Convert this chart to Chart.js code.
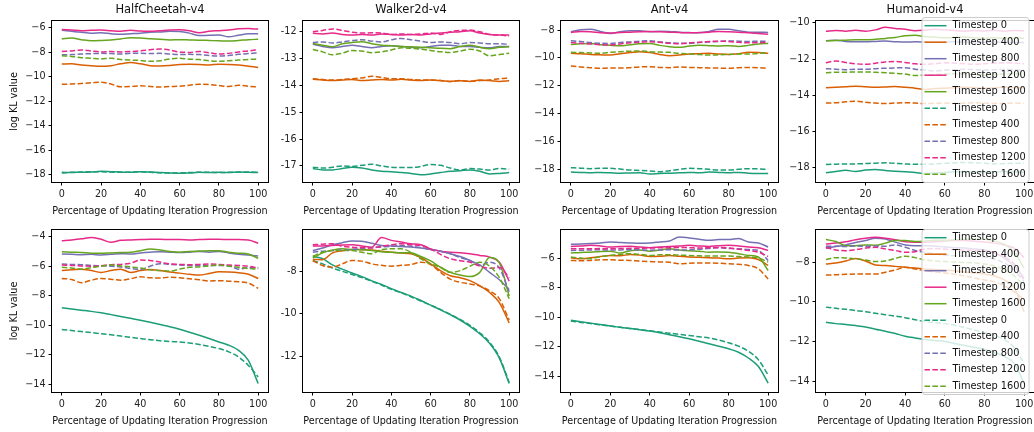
<!DOCTYPE html>
<html>
<head>
<meta charset="utf-8">
<script src="https://cdn.jsdelivr.net/npm/chart.js@4.4.1/dist/chart.umd.min.js"></script>
<style>
  html, body { margin: 0; padding: 0; background: #fff; overflow: hidden; }
  body { width: 1034px; height: 432px; position: relative; }
  .panel { position: absolute; }
</style>
</head>
<body>
<script>
// x positions (percentage of updating iteration progression)
const progress = [0, 5, 10, 15, 20, 25, 30, 35, 40, 45, 50, 55, 60, 65, 70, 75, 80, 85, 90, 95, 100];
const xTicks = [0, 20, 40, 60, 80, 100];

const timestepLabels = ['Timestep 0', 'Timestep 400', 'Timestep 800', 'Timestep 1200', 'Timestep 1600'];
const timestepColors = ['#1b9e77', '#d95f02', '#7570b3', '#e7298a', '#66a61e'];
const envTitles = ['HalfCheetah-v4', 'Walker2d-v4', 'Ant-v4', 'Humanoid-v4'];

// y tick labels per panel
const yTicksHalfCheetahTop = [-18, -16, -14, -12, -10, -8, -6];
const yTicksWalkerTop = [-17, -16, -15, -14, -13, -12];
const yTicksAntTop = [-18, -16, -14, -12, -10, -8];
const yTicksHumanoidTop = [-18, -16, -14, -12, -10];
const yTicksHalfCheetahBottom = [-14, -12, -10, -8, -6, -4];
const yTicksWalkerBottom = [-12, -10, -8];
const yTicksAntBottom = [-14, -12, -10, -8, -6];
const yTicksHumanoidBottom = [-14, -12, -10, -8];

// ---- top row: solid lines (Timestep 0, 400, 800, 1200, 1600) ----
const halfCheetahTopSolid = [
  [-17.85, -17.8, -17.8, -17.78, -17.72, -17.75, -17.78, -17.8, -17.75, -17.78, -17.82, -17.85, -17.88, -17.85, -17.8, -17.82, -17.8, -17.82, -17.78, -17.8, -17.82],
  [-8.97, -8.95, -9.05, -9.1, -9.15, -9.1, -8.95, -8.85, -8.95, -9.1, -9.12, -9.08, -9.0, -8.98, -9.0, -9.05, -8.98, -9.0, -9.05, -9.15, -9.25],
  [-6.22, -6.3, -6.38, -6.45, -6.42, -6.5, -6.55, -6.5, -6.45, -6.38, -6.35, -6.3, -6.32, -6.45, -6.65, -6.62, -6.6, -6.75, -6.62, -6.5, -6.5],
  [-6.15, -6.2, -6.25, -6.22, -6.2, -6.25, -6.3, -6.22, -6.28, -6.3, -6.25, -6.2, -6.18, -6.25, -6.42, -6.3, -6.25, -6.2, -6.1, -6.08, -6.12],
  [-6.9, -6.85, -6.98, -7.08, -7.05, -7.0, -6.92, -6.82, -6.85, -6.9, -6.95, -7.0, -6.98, -7.0, -7.02, -7.05, -7.08, -7.1, -7.05, -6.98, -6.95]
];
const halfCheetahTopDashed = [
  [-17.8, -17.82, -17.78, -17.75, -17.75, -17.78, -17.8, -17.78, -17.76, -17.8, -17.84, -17.86, -17.85, -17.82, -17.8, -17.8, -17.82, -17.8, -17.8, -17.78, -17.8],
  [-10.62, -10.6, -10.55, -10.5, -10.45, -10.6, -10.82, -10.8, -10.75, -10.8, -10.85, -10.8, -10.78, -10.7, -10.62, -10.65, -10.72, -10.8, -10.7, -10.78, -10.85],
  [-8.22, -8.2, -8.15, -8.12, -8.1, -8.12, -8.15, -8.1, -8.1, -8.12, -8.1, -8.15, -8.2, -8.18, -8.2, -8.28, -8.32, -8.28, -8.18, -8.12, -8.05],
  [-7.95, -7.9, -7.82, -7.9, -7.98, -7.95, -7.98, -7.95, -7.9, -7.8, -7.75, -7.82, -8.0, -8.02, -7.95, -8.05, -8.15, -8.1, -7.98, -7.9, -7.8],
  [-8.3, -8.35, -8.45, -8.5, -8.55, -8.5, -8.6, -8.65, -8.68, -8.75, -8.7, -8.55, -8.5, -8.58, -8.6, -8.7, -8.75, -8.7, -8.65, -8.6, -8.55]
];

const walkerTopSolid = [
  [-17.1, -17.15, -17.15, -17.1, -17.05, -17.08, -17.15, -17.2, -17.22, -17.25, -17.28, -17.33, -17.3, -17.25, -17.2, -17.18, -17.15, -17.2, -17.3, -17.28, -17.25],
  [-13.77, -13.8, -13.82, -13.8, -13.78, -13.82, -13.8, -13.78, -13.8, -13.77, -13.8, -13.82, -13.8, -13.82, -13.85, -13.83, -13.85, -13.8, -13.82, -13.85, -13.83],
  [-12.47, -12.55, -12.6, -12.55, -12.5, -12.55, -12.6, -12.55, -12.52, -12.55, -12.58, -12.6, -12.55, -12.5, -12.5, -12.55, -12.55, -12.58, -12.6, -12.55, -12.55],
  [-12.06, -12.08, -12.05, -12.1, -12.12, -12.1, -12.12, -12.08, -12.1, -12.12, -12.1, -12.12, -12.08, -12.05, -12.02, -12.0, -11.96, -12.05, -12.1, -12.12, -12.12],
  [-12.44, -12.5, -12.56, -12.45, -12.4, -12.37, -12.45, -12.5, -12.52, -12.55, -12.56, -12.58, -12.6, -12.62, -12.63, -12.55, -12.5, -12.58, -12.63, -12.58, -12.56]
];
const walkerTopDashed = [
  [-17.05, -17.08, -17.05, -17.0, -17.02, -16.98, -16.94, -17.0, -17.05, -17.06, -17.06, -17.02, -16.95, -16.98, -17.08, -17.15, -17.1, -17.12, -17.15, -17.1, -17.12],
  [-13.75, -13.78, -13.8, -13.78, -13.75, -13.72, -13.66, -13.7, -13.75, -13.75, -13.78, -13.8, -13.8, -13.82, -13.85, -13.82, -13.85, -13.82, -13.8, -13.75, -13.72],
  [-12.4, -12.38, -12.42, -12.38, -12.33, -12.3, -12.35, -12.38, -12.3, -12.25, -12.3, -12.35, -12.4, -12.38, -12.4, -12.45, -12.4, -12.42, -12.45, -12.45, -12.47],
  [-12.0, -11.95, -11.9, -11.95, -12.02, -12.05, -12.04, -12.05, -12.1, -12.08, -12.1, -12.08, -12.05, -12.1, -12.0, -11.95, -11.94, -12.0, -12.1, -12.12, -12.16],
  [-12.66, -12.75, -12.86, -12.8, -12.7, -12.72, -12.78, -12.75, -12.68, -12.6, -12.62, -12.65, -12.7, -12.75, -12.77, -12.72, -12.65, -12.72, -12.9, -12.85, -12.8]
];

const antTopSolid = [
  [-18.2, -18.22, -18.25, -18.22, -18.25, -18.28, -18.26, -18.25, -18.33, -18.3, -18.28, -18.25, -18.22, -18.25, -18.2, -18.22, -18.25, -18.22, -18.28, -18.3, -18.3],
  [-9.67, -9.7, -9.75, -9.78, -9.8, -9.7, -9.62, -9.55, -9.62, -9.75, -9.84, -9.8, -9.72, -9.7, -9.67, -9.72, -9.75, -9.7, -9.6, -9.62, -9.67],
  [-8.12, -7.98, -7.95, -8.1, -8.24, -8.12, -8.05, -8.05, -8.12, -8.08, -8.1, -8.15, -8.18, -8.2, -8.1, -7.95, -7.95, -8.05, -8.15, -8.15, -8.17],
  [-8.17, -8.1, -8.12, -8.2, -8.22, -8.18, -8.15, -8.12, -8.1, -8.12, -8.15, -8.18, -8.2, -8.18, -8.15, -8.1, -8.12, -8.15, -8.2, -8.25, -8.3],
  [-9.03, -8.98, -8.96, -9.05, -9.1, -9.13, -9.05, -8.98, -8.96, -9.1, -9.2, -9.24, -9.15, -9.1, -9.12, -9.15, -9.12, -9.18, -9.1, -9.0, -8.96]
];
const antTopDashed = [
  [-17.88, -17.92, -17.95, -17.93, -17.93, -17.98, -18.05, -18.08, -18.12, -18.17, -18.1, -18.0, -17.93, -17.95, -18.0, -18.05, -18.05, -18.0, -17.95, -17.97, -18.0],
  [-10.58, -10.65, -10.7, -10.75, -10.72, -10.73, -10.7, -10.65, -10.63, -10.68, -10.7, -10.65, -10.68, -10.7, -10.72, -10.73, -10.75, -10.7, -10.68, -10.7, -10.75],
  [-8.77, -8.82, -8.9, -8.95, -8.96, -8.9, -8.85, -8.8, -8.77, -8.85, -8.92, -8.95, -8.96, -8.9, -8.85, -8.82, -8.78, -8.8, -8.82, -8.8, -8.8],
  [-8.9, -8.95, -9.0, -9.05, -9.08, -9.0, -8.92, -8.88, -8.84, -8.88, -8.95, -8.98, -8.92, -8.88, -8.82, -8.8, -8.82, -8.88, -8.92, -8.9, -8.9],
  [-9.6, -9.62, -9.65, -9.67, -9.6, -9.55, -9.52, -9.5, -9.55, -9.58, -9.6, -9.68, -9.72, -9.76, -9.8, -9.78, -9.75, -9.72, -9.72, -9.68, -9.63]
];

const humanoidTopSolid = [
  [-18.27, -18.2, -18.13, -18.2, -18.12, -18.09, -18.15, -18.18, -18.22, -18.25, -18.31, -18.28, -18.25, -18.22, -18.2, -18.22, -18.25, -18.22, -18.2, -18.22, -18.25],
  [-13.58, -13.55, -13.52, -13.49, -13.52, -13.55, -13.53, -13.5, -13.55, -13.6, -13.67, -13.62, -13.6, -13.58, -13.55, -13.57, -13.6, -13.58, -13.55, -13.57, -13.58],
  [-10.98, -10.95, -11.02, -11.04, -11.04, -11.02, -11.0, -11.03, -11.05, -11.04, -11.05, -11.06, -11.05, -11.04, -11.06, -11.08, -11.06, -11.05, -11.07, -11.08, -11.08],
  [-10.46, -10.42, -10.45, -10.4, -10.45, -10.38, -10.24, -10.3, -10.35, -10.43, -10.4, -10.35, -10.38, -10.42, -10.45, -10.42, -10.44, -10.4, -10.45, -10.42, -10.43],
  [-10.98, -10.97, -10.95, -10.93, -10.93, -10.9, -10.85, -10.8, -10.7, -10.68, -10.75, -10.78, -10.82, -10.8, -10.78, -10.82, -10.85, -10.82, -10.85, -10.83, -10.84]
];
const humanoidTopDashed = [
  [-17.81, -17.8, -17.78, -17.78, -17.76, -17.74, -17.72, -17.75, -17.78, -17.8, -17.8, -17.78, -17.75, -17.72, -17.7, -17.72, -17.75, -17.78, -17.76, -17.75, -17.75],
  [-14.42, -14.4, -14.35, -14.32, -14.38, -14.42, -14.45, -14.42, -14.4, -14.42, -14.45, -14.43, -14.42, -14.45, -14.43, -14.4, -14.42, -14.45, -14.43, -14.42, -14.45],
  [-12.52, -12.55, -12.58, -12.56, -12.56, -12.52, -12.5, -12.48, -12.47, -12.55, -12.6, -12.65, -12.6, -12.58, -12.55, -12.58, -12.6, -12.58, -12.55, -12.58, -12.6],
  [-12.19, -12.1, -12.18, -12.25, -12.28, -12.22, -12.15, -12.13, -12.18, -12.25, -12.28, -12.25, -12.2, -12.22, -12.25, -12.28, -12.25, -12.22, -12.2, -12.22, -12.25],
  [-12.75, -12.72, -12.72, -12.7, -12.7, -12.72, -12.75, -12.78, -12.82, -12.9, -12.88, -12.85, -12.82, -12.8, -12.82, -12.85, -12.88, -12.85, -12.82, -12.8, -12.82]
];

// ---- bottom row ----
const halfCheetahBottomSolid = [
  [-8.82, -8.9, -8.98, -9.06, -9.16, -9.28, -9.4, -9.53, -9.66, -9.8, -9.95, -10.1, -10.27, -10.47, -10.68, -10.9, -11.13, -11.35, -11.7, -12.38, -13.95],
  [-6.3, -6.25, -6.2, -6.3, -6.42, -6.3, -6.2, -6.42, -6.3, -6.22, -6.3, -6.4, -6.47, -6.55, -6.6, -6.5, -6.38, -6.4, -6.45, -6.55, -6.83],
  [-5.18, -5.2, -5.22, -5.2, -5.24, -5.2, -5.15, -5.18, -5.1, -5.05, -5.02, -5.05, -5.08, -5.05, -5.0, -5.05, -5.0, -5.1, -5.2, -5.25, -5.31],
  [-4.27, -4.22, -4.15, -4.05, -4.18, -4.38, -4.25, -4.22, -4.2, -4.17, -4.17, -4.2, -4.2, -4.22, -4.2, -4.18, -4.17, -4.2, -4.2, -4.22, -4.45],
  [-5.02, -5.05, -5.08, -5.12, -5.13, -5.1, -5.08, -5.06, -4.95, -4.84, -4.9, -5.0, -5.05, -5.0, -4.98, -4.96, -4.95, -5.05, -5.12, -5.18, -5.47]
];
const halfCheetahBottomDashed = [
  [-10.29, -10.36, -10.43, -10.5, -10.57, -10.65, -10.73, -10.82, -10.9, -10.98, -11.05, -11.1, -11.13, -11.2, -11.3, -11.43, -11.58, -11.8, -12.15, -12.72, -13.5],
  [-6.83, -6.9, -7.12, -6.95, -6.83, -6.88, -6.95, -6.85, -6.72, -6.78, -6.8, -6.75, -6.78, -6.85, -6.92, -7.0, -6.98, -7.02, -7.05, -7.15, -7.5],
  [-5.86, -5.88, -5.9, -5.95, -5.97, -6.0, -6.05, -6.15, -6.22, -6.0, -5.83, -5.88, -5.92, -5.95, -5.95, -5.95, -5.95, -5.97, -6.2, -6.1, -6.1],
  [-5.92, -5.95, -5.98, -6.0, -5.97, -5.9, -5.88, -5.8, -5.58, -5.62, -5.72, -5.85, -5.88, -5.9, -5.88, -5.85, -5.88, -5.92, -5.95, -6.0, -6.13],
  [-6.08, -6.12, -6.2, -6.1, -6.0, -5.92, -5.98, -6.05, -6.13, -6.25, -6.3, -6.33, -6.2, -6.08, -6.05, -5.98, -5.92, -6.0, -6.08, -6.15, -6.2]
];

const walkerBottomSolid = [
  [-7.3, -7.4, -7.7, -7.9, -8.08, -8.25, -8.45, -8.62, -8.82, -9.0, -9.17, -9.38, -9.6, -9.82, -10.05, -10.3, -10.6, -10.95, -11.4, -12.1, -13.3],
  [-7.44, -7.45, -7.13, -7.03, -6.97, -6.98, -6.99, -7.05, -7.1, -7.14, -7.17, -7.35, -7.65, -7.97, -8.21, -8.3, -8.44, -8.68, -9.0, -9.48, -10.44],
  [-7.02, -6.9, -6.75, -6.65, -6.57, -6.58, -6.68, -6.78, -6.8, -6.83, -6.85, -6.9, -6.97, -7.05, -7.17, -7.3, -7.49, -7.7, -8.05, -8.4, -8.86],
  [-6.81, -6.8, -6.78, -6.76, -6.75, -6.8, -6.86, -6.41, -6.54, -6.62, -6.7, -6.75, -6.94, -7.05, -7.1, -7.12, -7.17, -7.25, -7.33, -7.57, -8.46],
  [-7.38, -7.13, -7.0, -6.94, -6.97, -6.98, -7.02, -7.08, -7.1, -7.12, -7.13, -7.3, -7.51, -7.81, -8.05, -8.18, -8.25, -8.05, -7.35, -7.6, -9.17]
];
const walkerBottomDashed = [
  [-7.5, -7.65, -7.85, -8.0, -8.15, -8.3, -8.47, -8.65, -8.85, -9.02, -9.2, -9.4, -9.6, -9.8, -10.03, -10.27, -10.55, -10.9, -11.35, -12.05, -13.25],
  [-7.49, -7.73, -7.81, -7.65, -7.49, -7.52, -7.65, -7.72, -7.76, -7.72, -7.68, -7.57, -7.68, -8.05, -8.37, -8.52, -8.6, -8.7, -8.92, -9.3, -10.3],
  [-7.1, -7.05, -7.02, -7.0, -6.97, -6.92, -6.88, -6.85, -6.82, -6.78, -6.82, -6.88, -6.97, -7.05, -7.17, -7.35, -7.49, -7.73, -7.57, -7.85, -8.97],
  [-6.75, -6.72, -6.7, -6.82, -6.86, -6.88, -6.9, -6.82, -6.75, -6.7, -6.75, -6.78, -6.95, -7.2, -7.41, -7.5, -7.57, -7.75, -7.86, -7.82, -8.3],
  [-7.29, -7.1, -7.02, -7.02, -7.02, -7.1, -7.17, -6.97, -6.94, -6.94, -7.1, -7.41, -7.65, -7.81, -8.05, -7.97, -7.76, -7.57, -7.76, -8.3, -9.29]
];

const antBottomSolid = [
  [-10.2, -10.3, -10.4, -10.5, -10.6, -10.68, -10.76, -10.85, -10.94, -11.05, -11.18, -11.32, -11.46, -11.62, -11.8, -11.96, -12.14, -12.37, -12.76, -13.32, -14.46],
  [-5.98, -6.05, -5.98, -5.9, -5.82, -5.85, -5.75, -5.8, -5.9, -5.88, -5.82, -5.88, -5.92, -5.95, -5.98, -6.0, -6.05, -6.0, -5.98, -6.1, -6.5],
  [-5.07, -5.05, -5.02, -4.98, -4.91, -4.95, -4.98, -5.0, -4.98, -4.91, -4.84, -4.57, -4.64, -4.72, -4.8, -4.75, -4.75, -4.68, -4.91, -4.98, -5.25],
  [-5.21, -5.18, -5.14, -5.18, -5.25, -5.22, -5.2, -5.25, -5.3, -5.25, -5.21, -5.18, -5.14, -5.18, -5.21, -5.16, -5.14, -5.18, -5.25, -5.3, -5.48],
  [-5.66, -5.62, -5.6, -5.55, -5.53, -5.66, -5.5, -5.45, -5.53, -5.45, -5.37, -5.45, -5.5, -5.53, -5.6, -5.58, -5.6, -5.7, -5.82, -5.93, -6.84]
];
const antBottomDashed = [
  [-10.26, -10.35, -10.43, -10.52, -10.6, -10.68, -10.76, -10.84, -10.92, -11.0, -11.08, -11.16, -11.24, -11.32, -11.4, -11.55, -11.73, -11.96, -12.3, -12.87, -13.9],
  [-6.16, -6.18, -6.16, -6.12, -6.12, -6.15, -6.16, -6.2, -6.23, -6.26, -6.28, -6.39, -6.35, -6.33, -6.33, -6.35, -6.39, -6.42, -6.5, -6.72, -7.41],
  [-5.48, -5.47, -5.45, -5.44, -5.46, -5.45, -5.43, -5.45, -5.47, -5.45, -5.44, -5.46, -5.45, -5.4, -5.35, -5.3, -5.35, -5.37, -5.42, -5.48, -6.16],
  [-5.37, -5.37, -5.37, -5.36, -5.37, -5.35, -5.34, -5.33, -5.32, -5.3, -5.3, -5.28, -5.3, -5.32, -5.3, -5.29, -5.32, -5.4, -5.48, -5.6, -5.89],
  [-5.93, -6.0, -6.04, -5.9, -5.82, -5.75, -5.7, -5.75, -5.82, -5.78, -5.77, -5.8, -5.82, -5.85, -5.86, -5.86, -5.86, -5.9, -5.93, -6.0, -6.27]
];

const humanoidBottomSolid = [
  [-11.03, -11.1, -11.14, -11.2, -11.27, -11.38, -11.48, -11.6, -11.73, -11.82, -11.9, -11.95, -12.0, -12.1, -12.2, -12.3, -12.4, -12.55, -12.75, -13.1, -14.1],
  [-8.1, -8.05, -7.95, -7.82, -7.95, -8.15, -8.18, -8.22, -8.27, -8.3, -8.35, -8.38, -8.4, -8.45, -8.5, -8.55, -8.6, -8.7, -8.9, -9.3, -10.5],
  [-7.31, -7.22, -7.14, -7.02, -6.92, -6.8, -6.84, -7.0, -7.14, -7.18, -7.18, -7.2, -7.25, -7.28, -7.3, -7.35, -7.4, -7.55, -7.8, -8.2, -8.8],
  [-7.09, -7.05, -6.98, -6.88, -6.8, -6.76, -6.8, -6.88, -6.98, -7.0, -7.0, -6.98, -6.94, -6.92, -6.92, -6.96, -7.0, -7.05, -7.15, -7.3, -7.78],
  [-6.87, -6.97, -7.18, -7.18, -7.14, -7.16, -7.05, -6.92, -6.92, -6.97, -6.95, -6.9, -6.9, -6.88, -6.86, -6.86, -6.86, -6.95, -7.1, -7.5, -8.3]
];
const humanoidBottomDashed = [
  [-10.27, -10.33, -10.38, -10.44, -10.5, -10.58, -10.65, -10.72, -10.8, -10.9, -11.0, -11.05, -11.1, -11.18, -11.3, -11.42, -11.55, -11.7, -11.9, -12.3, -13.1],
  [-8.66, -8.64, -8.62, -8.6, -8.6, -8.6, -8.52, -8.4, -8.27, -8.35, -8.44, -8.5, -8.55, -8.62, -8.7, -8.8, -8.9, -9.0, -9.2, -9.5, -9.9],
  [-7.21, -7.21, -7.22, -7.2, -7.21, -7.2, -7.21, -7.14, -7.26, -7.42, -7.51, -7.6, -7.65, -7.68, -7.7, -7.72, -7.75, -7.85, -8.05, -8.4, -9.0],
  [-7.26, -7.4, -7.43, -7.38, -7.3, -7.26, -7.34, -7.42, -7.51, -7.48, -7.34, -7.32, -7.35, -7.38, -7.4, -7.42, -7.45, -7.55, -7.75, -8.1, -8.9],
  [-7.88, -7.78, -7.8, -7.84, -7.9, -7.98, -7.95, -7.82, -7.71, -7.78, -7.9, -7.95, -7.98, -8.0, -8.02, -8.05, -8.1, -8.2, -8.4, -8.7, -9.2]
];

// ---- layout (page pixels of each plot area) ----
const colLeft = [52, 303, 561, 816];
const colWidth = [216, 216, 217, 218];
const rowTop = [21, 230];
const rowHeight = [161, 162];
const Y_AXIS_W = 52, X_AXIS_H = 40, TOP_PAD = 22, RIGHT_PAD = 4;

const panels = [
  { row: 0, col: 0, solid: halfCheetahTopSolid, dashed: halfCheetahTopDashed, yMin: -18.59, yMax: -5.46, yTicks: yTicksHalfCheetahTop },
  { row: 0, col: 1, solid: walkerTopSolid, dashed: walkerTopDashed, yMin: -17.6, yMax: -11.6, yTicks: yTicksWalkerTop, hyphen: true },
  { row: 0, col: 2, solid: antTopSolid, dashed: antTopDashed, yMin: -18.91, yMax: -7.35, yTicks: yTicksAntTop },
  { row: 0, col: 3, solid: humanoidTopSolid, dashed: humanoidTopDashed, yMin: -18.78, yMax: -9.89, yTicks: yTicksHumanoidTop, legendDy: -4 },
  { row: 1, col: 0, solid: halfCheetahBottomSolid, dashed: halfCheetahBottomDashed, yMin: -14.52, yMax: -3.55, yTicks: yTicksHalfCheetahBottom },
  { row: 1, col: 1, solid: walkerBottomSolid, dashed: walkerBottomDashed, yMin: -13.7, yMax: -6.05, yTicks: yTicksWalkerBottom, hyphen: true },
  { row: 1, col: 2, solid: antBottomSolid, dashed: antBottomDashed, yMin: -15.06, yMax: -4.1, yTicks: yTicksAntBottom },
  { row: 1, col: 3, solid: humanoidBottomSolid, dashed: humanoidBottomDashed, yMin: -14.54, yMax: -6.39, yTicks: yTicksHumanoidBottom, legendDy: -1 }
];

Chart.defaults.font.family = "'DejaVu Sans', sans-serif";
Chart.defaults.color = '#222';

// full box around the axes, like matplotlib spines
const frame = {
  id: 'frame',
  beforeDatasetsDraw(chart) {
    const a = chart.chartArea;
    const ctx = chart.ctx;
    ctx.save();
    ctx.strokeStyle = '#000';
    ctx.lineWidth = 1;
    ctx.strokeRect(a.left - 0.5, a.top - 0.5, a.right - a.left + 1, a.bottom - a.top + 1);
    ctx.restore();
  }
};

// matplotlib-like legend box drawn over the lines
const legendBox = {
  id: 'legendBox',
  afterDraw(chart, args, opts) {
    if (!opts.show) return;
    const ctx = chart.ctx;
    const a = chart.chartArea;
    const left = a.right - 112.5, top = a.top + opts.dy;
    ctx.save();
    ctx.fillStyle = 'rgba(255,255,255,0.8)';
    ctx.strokeStyle = '#cccccc';
    ctx.lineWidth = 1;
    ctx.beginPath();
    ctx.roundRect(left + 0.5, top + 0.5, 107, 165, 3);
    ctx.fill();
    ctx.stroke();
    ctx.font = "9.8px 'DejaVu Sans'";
    ctx.textBaseline = 'middle';
    chart.data.datasets.forEach((ds, i) => {
      const y = top + 8.7 + i * 16.5;
      ctx.strokeStyle = ds.borderColor;
      ctx.lineWidth = 1.5;
      ctx.setLineDash(ds.borderDash || []);
      ctx.beginPath();
      ctx.moveTo(left + 3, y);
      ctx.lineTo(left + 25, y);
      ctx.stroke();
      ctx.setLineDash([]);
      ctx.fillStyle = '#111';
      ctx.fillText(ds.label, left + 31, y);
    });
    ctx.restore();
  }
};

function makePanel(p) {
  const plotW = colWidth[p.col], plotH = rowHeight[p.row];
  const div = document.createElement('div');
  div.className = 'panel';
  div.style.left = (colLeft[p.col] - Y_AXIS_W) + 'px';
  div.style.top = (rowTop[p.row] - TOP_PAD) + 'px';
  const canvas = document.createElement('canvas');
  canvas.width = Y_AXIS_W + plotW + RIGHT_PAD;
  canvas.height = TOP_PAD + plotH + X_AXIS_H;
  div.appendChild(canvas);
  document.body.appendChild(div);

  const datasets = [];
  p.solid.forEach((vals, i) => {
    datasets.push({
      label: timestepLabels[i],
      data: vals.map((v, k) => ({ x: progress[k], y: v })),
      borderColor: timestepColors[i],
      borderWidth: 1.5,
      pointRadius: 0,
      cubicInterpolationMode: 'monotone',
      order: -i
    });
  });
  p.dashed.forEach((vals, i) => {
    datasets.push({
      label: timestepLabels[i],
      data: vals.map((v, k) => ({ x: progress[k], y: v })),
      borderColor: timestepColors[i],
      borderWidth: 1.5,
      borderDash: [5.5, 2.4],
      pointRadius: 0,
      cubicInterpolationMode: 'monotone',
      order: -(i + 5)
    });
  });

  const tickFont = { size: 9.6 };
  const fmt = p.hyphen ? (v => String(v)) : (v => (v < 0 ? '\u2212' : '') + Math.abs(v));

  new Chart(canvas, {
    type: 'line',
    data: { datasets },
    plugins: [frame, legendBox],
    options: {
      responsive: false,
      animation: false,
      devicePixelRatio: 1,
      layout: { padding: { top: p.row === 0 ? 0 : TOP_PAD, right: RIGHT_PAD, left: 0, bottom: 0 } },
      plugins: {
        legend: { display: false },
        tooltip: { enabled: false },
        title: {
          display: p.row === 0,
          text: envTitles[p.col],
          fullSize: false,
          color: '#111',
          font: { size: 11.5, weight: 'normal' },
          padding: { top: 4, bottom: 22 - 4 - 11.5 * 1.2 }
        },
        legendBox: { show: p.col === 3, dy: p.legendDy || 0 }
      },
      scales: {
        x: {
          type: 'linear',
          min: -5,
          max: 105,
          afterBuildTicks: s => { s.ticks = xTicks.map(v => ({ value: v })); },
          afterFit: s => { s.height = X_AXIS_H; },
          ticks: { font: tickFont, padding: 3, maxRotation: 0, callback: v => String(v) },
          grid: { drawOnChartArea: false, color: '#000', tickLength: 3.5 },
          border: { display: false },
          title: {
            display: true,
            text: 'Percentage of Updating Iteration Progression',
            font: { size: 9.6 },
            color: '#111',
            padding: { top: 0, bottom: 4.5 }
          }
        },
        y: {
          min: p.yMin,
          max: p.yMax,
          afterBuildTicks: s => { s.ticks = p.yTicks.map(v => ({ value: v })); },
          afterFit: s => { s.width = Y_AXIS_W; },
          ticks: { font: tickFont, padding: 3, callback: fmt },
          grid: { drawOnChartArea: false, color: '#000', tickLength: 3.5 },
          border: { display: false },
          title: {
            display: p.col === 0,
            text: 'log KL value',
            font: { size: 9.6 },
            color: '#111',
            padding: { top: 9.2, bottom: 0 }
          }
        }
      }
    }
  });
}

panels.forEach(makePanel);
</script>
</body>
</html>
